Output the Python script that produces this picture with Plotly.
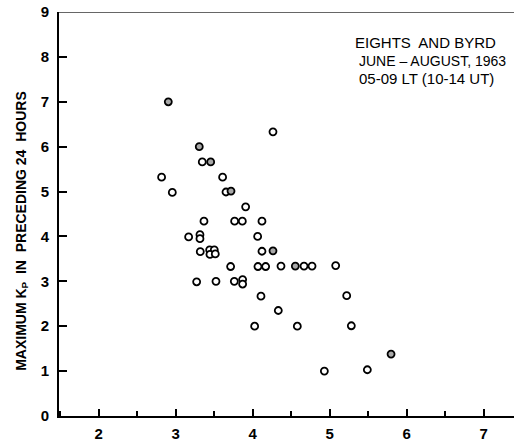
import plotly.graph_objects as go

# Data
x_vals = [2.905, 4.264, 3.307, 3.346, 3.455, 2.818, 3.61, 2.957, 3.654, 3.719,
          3.909, 3.368, 3.766, 3.866, 4.121, 3.169, 3.316, 3.316, 4.065, 3.32,
          3.442, 3.502, 3.446, 3.515, 4.121, 4.264, 3.714, 4.069, 4.169, 4.368,
          4.554, 4.667, 4.771, 5.078, 3.273, 3.524, 3.762, 3.870, 3.870, 4.108,
          5.221, 4.333, 4.026, 4.580, 5.281, 5.797, 4.931, 5.489]
y_vals = [7.0, 6.33, 6.0, 5.66, 5.66, 5.32, 5.32, 4.98, 4.99, 5.01,
          4.66, 4.34, 4.34, 4.34, 4.34, 3.99, 4.04, 3.95, 4.0, 3.66,
          3.70, 3.70, 3.60, 3.61, 3.67, 3.68, 3.33, 3.33, 3.33, 3.34,
          3.34, 3.34, 3.34, 3.35, 2.99, 3.0, 3.0, 3.04, 2.94, 2.67,
          2.68, 2.35, 2.0, 2.0, 2.01, 1.38, 1.0, 1.03]
shaded = [1, 0, 1, 0, 1, 0, 0, 0, 0, 1,
          0, 0, 0, 0, 0, 0, 0, 0, 0, 0,
          0, 0, 0, 0, 0, 1, 0, 0, 0, 0,
          1, 0, 0, 0, 0, 0, 0, 0, 0, 0,
          0, 0, 0, 0, 0, 1, 0, 0]

x_ticks = [2, 3, 4, 5, 6, 7]
y_ticks = [0, 1, 2, 3, 4, 5, 6, 7, 8, 9]
x_range = [1.486, 7.393]
y_range = [0, 9]

info_lines = ["EIGHTS  AND BYRD", "JUNE \u2013 AUGUST, 1963", "05-09 LT (10-14 UT)"]
info_x = [5.304, 5.356, 5.356]
info_y = [8.32, 7.90, 7.51]
info_size = [15, 14, 15]

fill_colors = ["#a8a8a8" if s else "white" for s in shaded]

fig = go.Figure()
fig.add_trace(go.Scatter(
    x=x_vals, y=y_vals, mode="markers",
    marker=dict(symbol="circle", size=7, color=fill_colors,
                line=dict(color="black", width=1.8)),
    showlegend=False, cliponaxis=False,
))

tick_font = dict(family="Liberation Sans, Arial, sans-serif", size=15, color="black")

fig.update_layout(
    width=514, height=442,
    margin=dict(l=59, r=0, t=12, b=19),
    paper_bgcolor="white", plot_bgcolor="white",
    xaxis=dict(
        range=x_range, tickvals=x_ticks, ticktext=[f"<b>{v}</b>" for v in x_ticks],
        showgrid=False, zeroline=False, showline=True, linecolor="black", linewidth=2,
        ticks="inside", ticklen=7, tickwidth=1.5, tickcolor="black",
        tickfont=tick_font, ticklabelstandoff=3,
        minor=dict(dtick=0.5, tick0=0.5, ticks="inside", ticklen=5, tickwidth=1.5,
                   tickcolor="black", showgrid=False),
    ),
    yaxis=dict(
        range=y_range, tickvals=y_ticks, ticktext=[f"<b>{v}</b>" for v in y_ticks],
        showgrid=False, zeroline=False, showline=True, linecolor="black", linewidth=2,
        ticks="inside", ticklen=8, tickwidth=1.5, tickcolor="black",
        tickfont=tick_font, ticklabelstandoff=5,
    ),
)

# top border line
fig.add_shape(type="line", xref="paper", yref="y", x0=0, x1=1, y0=9, y1=9,
              line=dict(color="#333333", width=1.5))

# y-axis title
fig.add_annotation(
    text="<b>MAXIMUM K<sub>P</sub>  IN  PRECEDING 24  HOURS</b>",
    xref="paper", yref="paper", x=-0.082, y=0.4575, textangle=-90,
    showarrow=False, xanchor="center", yanchor="middle",
    font=dict(family="Liberation Sans, Arial, sans-serif", size=14, color="black"),
)

for txt, tx, ty, ts in zip(info_lines, info_x, info_y, info_size):
    fig.add_annotation(text=txt, x=tx, y=ty, xref="x", yref="y", showarrow=False,
                       xanchor="left", yanchor="middle",
                       font=dict(family="Liberation Sans, Arial, sans-serif", size=ts,
                                 color="black"))

fig.write_html("out.html")
